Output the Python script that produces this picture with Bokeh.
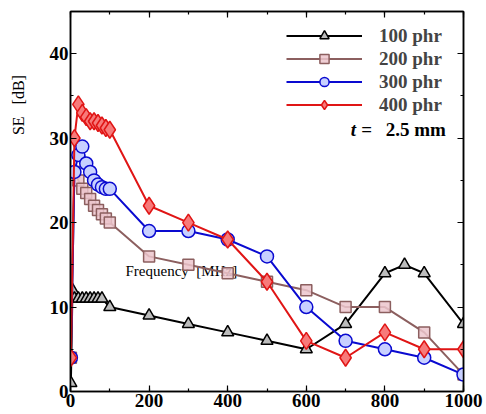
from bokeh.plotting import figure
from bokeh.layouts import row
from bokeh.models import Range1d, LinearAxis, Legend, LegendItem, SingleIntervalTicker
from bokeh.embed import file_html
from bokeh.resources import INLINE
from bokeh.core.properties import value

# Data (frequency in MHz, SE in dB)
f_100 = [1, 5, 10, 20, 30, 40, 50, 60, 70, 80, 100, 200, 300, 400, 500, 600, 700, 800, 850, 900, 1000]
se_100 = [1, 12, 11, 11, 11, 11, 11, 11, 11, 11, 10, 9, 8, 7, 6, 5, 8, 14, 15, 14, 8]

f_hi = [1, 10, 20, 30, 40, 50, 60, 70, 80, 90, 100, 200, 300, 400, 500, 600, 700, 800, 900, 1000]
se_200 = [4, 26, 25, 24, 23.5, 22.8, 22, 21.5, 21, 20.5, 20, 16, 15, 14, 13, 12, 10, 10, 7, 2]
se_300 = [4, 26, 28, 29, 27, 26, 25, 24.5, 24.2, 24, 24, 19, 19, 18, 16, 10, 6, 5, 4, 2]
se_400 = [4, 30, 34, 33, 32.5, 32, 32, 31.8, 31.5, 31.2, 31, 22, 20, 18, 13, 6, 4, 7, 5, 5]

series_labels = ["100 phr", "200 phr", "300 phr", "400 phr"]
y_title = "SE\u00a0\u00a0\u00a0[dB]"
x_title = "Frequency\u00a0\u00a0[MHz]"

SERIF = "Liberation Serif"

# narrow strip holding the vertical y-axis title
side = figure(width=32, height=414, output_backend="svg", toolbar_location=None,
              x_range=Range1d(0, 32), y_range=Range1d(0, 414),
              x_axis_location=None, y_axis_location=None,
              min_border=0, min_border_left=0, min_border_right=0,
              min_border_top=0, min_border_bottom=0)
side.xgrid.visible = False
side.ygrid.visible = False
side.outline_line_color = None
side.text(x=[18], y=[414 - 102], text=[y_title], text_font=value(SERIF),
          text_font_size="16px", text_baseline="middle", text_align="center",
          angle=1.5708, text_color="black")

p = figure(width=454, height=414, output_backend="svg", toolbar_location=None,
           x_range=Range1d(0, 1000), y_range=Range1d(0, 45),
           min_border_left=38, min_border_right=23, min_border_top=11, min_border_bottom=23)
p.xgrid.visible = False
p.ygrid.visible = False
p.outline_line_color = "black"
p.outline_line_width = 1.5
p.background_fill_color = "white"
p.border_fill_color = "white"

def style_axis(ax, labels=True):
    ax.axis_line_color = "black"
    ax.axis_line_width = 1.5
    ax.major_tick_in = 6
    ax.major_tick_out = 0
    ax.minor_tick_in = 3
    ax.minor_tick_out = 0
    ax.major_tick_line_width = 1.2
    ax.minor_tick_line_width = 1.2
    ax.major_label_text_font = SERIF
    ax.major_label_text_font_style = "bold"
    ax.major_label_text_font_size = "19px" if labels else "0px"
    ax.major_label_text_color = "black" if labels else None
    ax.major_label_standoff = 2 if labels else 0

style_axis(p.xaxis[0])
style_axis(p.yaxis[0])
p.xaxis[0].ticker = SingleIntervalTicker(interval=200, num_minor_ticks=2)
p.yaxis[0].ticker = SingleIntervalTicker(interval=10, num_minor_ticks=2)

top = LinearAxis(ticker=SingleIntervalTicker(interval=200, num_minor_ticks=2))
right = LinearAxis(ticker=SingleIntervalTicker(interval=10, num_minor_ticks=2))
style_axis(top, labels=False)
style_axis(right, labels=False)
p.add_layout(top, "above")
p.add_layout(right, "right")

# misplaced x-axis title inside the frame, as in the original
p.text(x=[140], y=[14.3], text=[x_title], text_font=value(SERIF),
       text_font_size="15px", text_baseline="middle", text_align="left", text_color="black")

l1 = p.line(f_100, se_100, line_color="black", line_width=2)
s1 = p.scatter(f_100, se_100, marker="triangle", size=12, fill_color="#bcbcbc",
               line_color="black", line_width=1.5)
l2 = p.line(f_hi, se_200, line_color="#8c5f5f", line_width=2)
s2 = p.scatter(f_hi, se_200, marker="square", size=11, fill_color="#ecc6cc",
               line_color="#8c5f5f", line_width=1.5, fill_alpha=0.85)
l3 = p.line(f_hi, se_300, line_color="#0a0ad0", line_width=2)
s3 = p.scatter(f_hi, se_300, marker="circle", size=13, fill_color="#c8d0ff",
               line_color="#0a0ad0", line_width=1.5)
l4 = p.line(f_hi, se_400, line_color="#e01515", line_width=2)
s4 = p.scatter(f_hi, se_400, marker="diamond", size=17, fill_color="#f77a7a",
               line_color="#e01515", line_width=1.5)

legend = Legend(items=[
    LegendItem(label=series_labels[0], renderers=[l1, s1]),
    LegendItem(label=series_labels[1], renderers=[l2, s2]),
    LegendItem(label=series_labels[2], renderers=[l3, s3]),
    LegendItem(label=series_labels[3], renderers=[l4, s4]),
], location=(216, 275))
legend.border_line_color = None
legend.background_fill_alpha = 0
legend.padding = 0
legend.margin = 0
legend.spacing = 0
legend.glyph_width = 76
legend.glyph_height = 23
legend.label_height = 23
legend.label_standoff = 17
legend.label_text_font = SERIF
legend.label_text_font_style = "bold"
legend.label_text_font_size = "19px"
p.add_layout(legend)

# "t = 2.5 mm"
p.text(x=[713], y=[31.0], text=["t"], text_font=value(SERIF), text_font_style="bold italic",
       text_font_size="19px", text_baseline="middle", text_align="left")
p.text(x=[740], y=[31.0], text=["="], text_font=value(SERIF), text_font_style="bold",
       text_font_size="19px", text_baseline="middle", text_align="left")
p.text(x=[955], y=[31.0], text=["2.5 mm"], text_font=value(SERIF), text_font_style="bold",
       text_font_size="19px", text_baseline="middle", text_align="right")

layout = row(side, p, spacing=0)
open("out.html", "w").write(file_html(layout, INLINE))
